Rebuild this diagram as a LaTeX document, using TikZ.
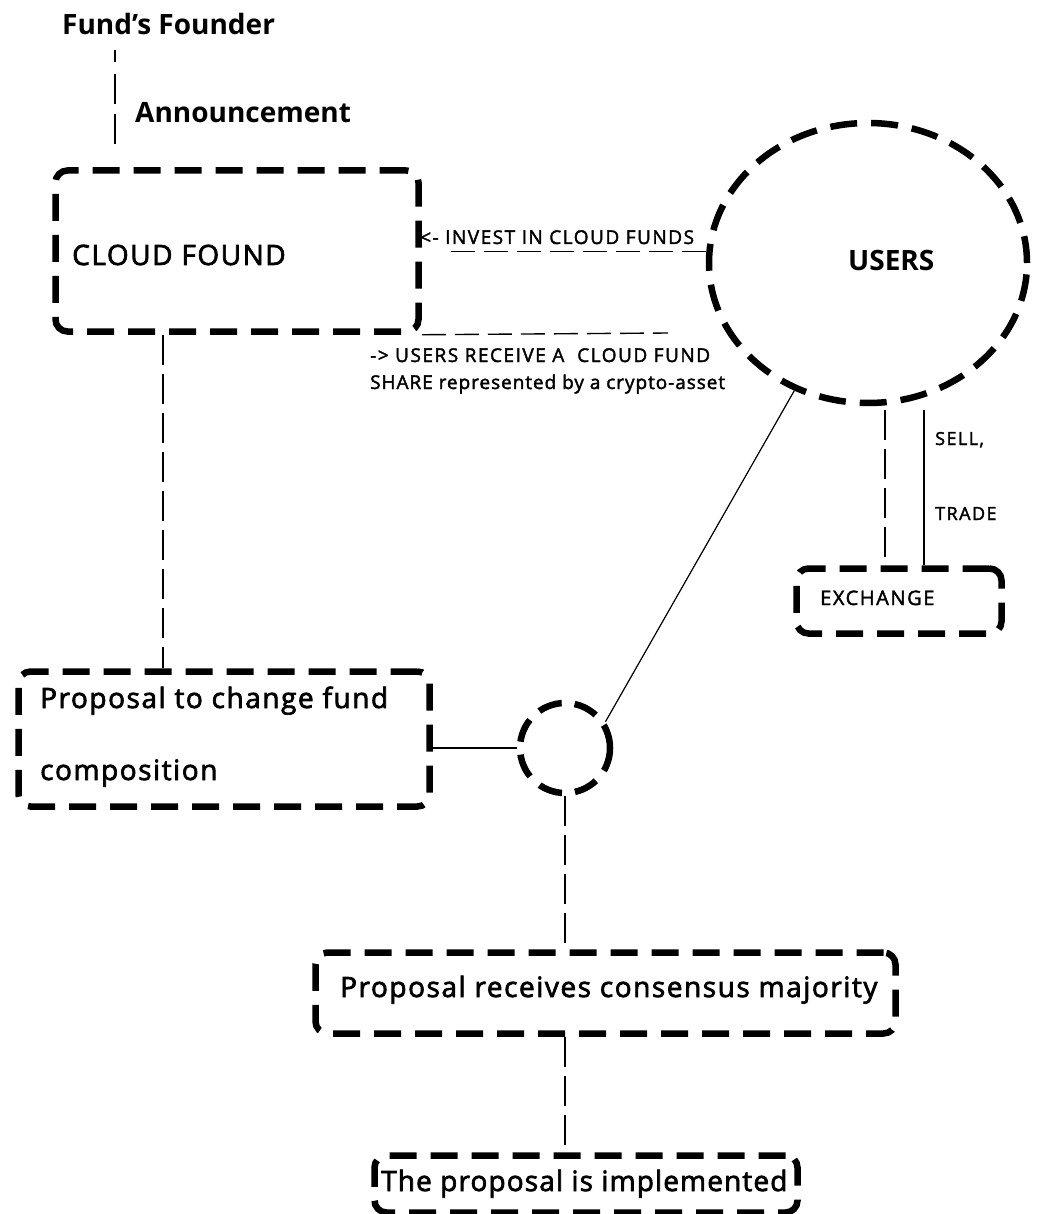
\documentclass[tikz,border=0pt]{standalone}
\usepackage{fontspec}
\setmainfont{Open Sans}
\newfontfamily\bodyfont[LetterSpace=5.5, FakeBold=2.5]{Open Sans}
\newfontfamily\labelfont[LetterSpace=8, FakeBold=2]{Open Sans}
\usetikzlibrary{shapes.geometric,calc}
\begin{document}
\begin{tikzpicture}[x=1pt,y=-1pt,
  thickdash/.style={line width=6.5pt, dash pattern=on 27pt off 14pt},
  stage/.style={draw, thickdash, rounded corners=12pt, inner sep=0pt},
  link/.style={line width=1.4pt, dash pattern=on 30pt off 9pt},
  plain/.style={line width=1.2pt},
  head/.style={font=\fontsize{28}{34}\selectfont\bfseries, inner sep=0pt, anchor=base west},
  big/.style={font=\bodyfont\fontsize{28}{34}\selectfont, inner sep=0pt, anchor=base west},
  small/.style={font=\labelfont\fontsize{19}{27}\selectfont, inner sep=0pt, anchor=base west},
  tiny/.style={font=\labelfont\fontsize{18}{22}\selectfont, inner sep=0pt, anchor=base west}]
\useasboundingbox (0,0) rectangle (1046,1214);

% boxes and circles
\node[stage, minimum width=363pt, minimum height=161pt] (cloud) at (237,251) {};
\node[draw, thickdash, ellipse, minimum width=318pt, minimum height=280pt, inner sep=0pt] (users) at (868,263) {};
\node[stage, minimum width=411pt, minimum height=135pt] (proposal) at (224,739) {};
\node[draw, thickdash, dash pattern=on 24pt off 13pt, circle, minimum size=90pt, inner sep=0pt] (vote) at (565,748) {};
\node[stage, minimum width=580pt, minimum height=81pt] (consensus) at (605.5,993) {};
\node[stage, minimum width=423pt, minimum height=57pt] (implemented) at (586,1184) {};
\node[stage, minimum width=205pt, minimum height=65pt] (exchange) at (899,601) {};

% texts
\node[head] (founder) at (62,35) {Fund’s Founder};
\node[head] (announce) at (135,123) {Announcement};
\node[big] (cloudtext) at (72,265) {CLOUD FOUND};
\node[head] (userstext) at (848,271) {USERS};
\node[small] (invest) at (420,244) {<- INVEST IN CLOUD FUNDS};
\node[small] (share1) at (370,362) {-> USERS RECEIVE A \ CLOUD FUND};
\node[small, font=\labelfont\fontsize{19}{27}\selectfont\addfontfeature{LetterSpace=5}] (share2) at (370,389) {SHARE represented by a crypto-asset};
\node[tiny] (sell) at (935,445) {SELL,};
\node[tiny] (trade) at (935,520) {TRADE};
\node[small, font=\labelfont\fontsize{20}{24}\selectfont] (exchtext) at (820,605) {EXCHANGE};
\node[big] (prop1) at (40,708) {Proposal to change fund};
\node[big] (prop2) at (40,780) {composition};
\node[big] (constext) at (340,997) {Proposal receives consensus majority};
\node[big, font=\bodyfont\fontsize{28}{34}\selectfont\addfontfeature{LetterSpace=4}] (impltext) at (381,1191) {The proposal is implemented};

% free ends
\coordinate (annTop) at (115,50);
\coordinate (annEnd) at (115,147);
\coordinate (investEnd) at (448,252);
\coordinate (shareEnd) at (668,333);

% connectors
\draw[link, dash pattern=on 12pt off 12pt on 30pt off 10pt on 30pt off 8pt] (annTop) -- (annEnd);
\draw[link, dash pattern=on 24pt off 9pt] (users.176) -- (users.176 -| investEnd);
\draw[link, dash pattern=on 24pt off 9pt] (cloud.south east) -- (shareEnd);
\draw[link] ([xshift=-74pt]cloud.south) -- ([xshift=-74pt]cloud.south |- proposal.north);
\draw[plain] (vote.west) -- (vote.west -| proposal.east);
\draw[plain] (users.240) -- (vote.33);
\draw[link] (vote.south) -- (vote.south |- consensus.north);
\draw[link] (vote.south |- consensus.south) -- (vote.south |- implemented.north);
\draw[link] ([xshift=17pt,yshift=-4pt]users.south) -- ([xshift=17pt]users.south |- exchange.north);
\draw[plain] ([xshift=56pt,yshift=-4pt]users.south) -- ([xshift=56pt]users.south |- exchange.north);
\end{tikzpicture}
\end{document}
